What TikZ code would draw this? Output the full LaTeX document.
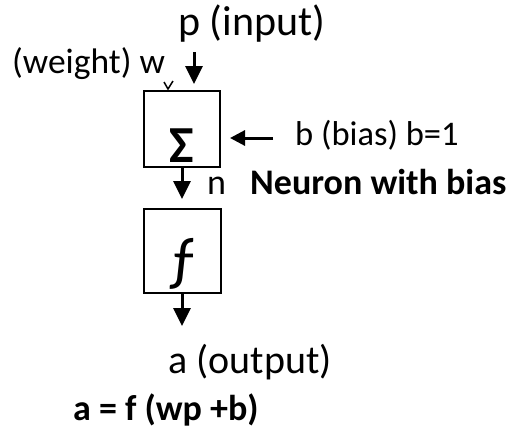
\documentclass[tikz,border=0pt]{standalone}
\usepackage{fontspec}
\setmainfont{Carlito}
\usetikzlibrary{arrows.meta}
\tikzset{
  lbl/.style={inner sep=0pt, anchor=base west, font=\fontsize{36pt}{40pt}\selectfont},
  blbl/.style={inner sep=0pt, anchor=base west, font=\fontsize{36pt}{40pt}\selectfont\bfseries},
  box/.style={draw, line width=2pt, minimum width=76pt, minimum height=76pt, inner sep=0pt},
  sym/.style={inner sep=0pt, font=\fontsize{52pt}{56pt}\selectfont},
  arr/.style={line width=3pt, -{Triangle[length=18pt,width=17pt]}},
  sarr/.style={line width=3pt, -{Triangle[length=15pt,width=15pt]}},
}
\begin{document}
\begin{tikzpicture}[x=1pt,y=-1pt]
\useasboundingbox (0,0) rectangle (512,434);
% boxes
\node[box] (sig) at (182,129) {};
\node[box, minimum height=84pt, minimum width=77pt] (fbox) at (182.5,251) {};
\node[sym, font=\fontsize{52pt}{56pt}\selectfont\bfseries] (sigsym) at ([yshift=-17pt]sig.center) {Σ};
\node[sym, font=\fontsize{60pt}{64pt}\selectfont] (fsym) at ([yshift=-13pt]fbox.center) {ƒ};
% labels
\node[lbl, font=\fontsize{42pt}{46pt}\selectfont] (pin) at (178,35) {p (input)};
\node[lbl, font=\fontsize{35.5pt}{40pt}\selectfont] (wt) at (12,73) {(weight) w};
\node[lbl, font=\fontsize{34.5pt}{40pt}\selectfont] (bias) at (295,145) {b (bias) b=1};
\node[lbl] (nlab) at (207,194) {n};
\node[blbl] (neur) at (250,194) {Neuron with bias};
\node[lbl, font=\fontsize{40pt}{44pt}\selectfont] (aout) at (168,373) {a (output)};
\node[blbl] (eq) at (73,420) {a = f (wp +b)};
% connector ends
\coordinate (pstart) at (194,52);
\coordinate (bstart) at (273,138);
\coordinate (oend) at (182,326);
% arrows
\draw[arr, shorten >=6pt] (pstart) -- (pstart |- sig.north);
\draw[sarr, shorten >=9pt] (bstart) -- (bstart -| sig.east);
\draw[arr, shorten >=9pt] (sig.south) -- (fbox.north -| sig.south);
\draw[arr] (fbox.south -| oend) -- (oend);
% weight tick
\draw[line width=1.5pt] ([xshift=-18pt,yshift=8pt]sig.north) -- ([xshift=-14pt,yshift=1pt]sig.north) -- ([xshift=-9pt,yshift=9pt]sig.north);
\end{tikzpicture}
\end{document}
